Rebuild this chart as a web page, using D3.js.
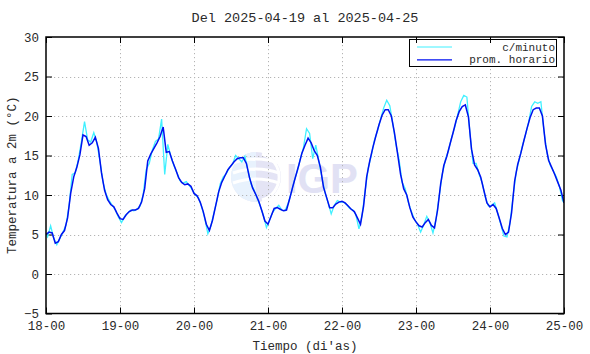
<!DOCTYPE html>
<html><head><meta charset="utf-8">
<script src="https://cdn.jsdelivr.net/npm/d3@7"></script>
<style>
body{margin:0;background:#fff}
text{font-family:"Liberation Mono",monospace}
</style>
</head><body>
<svg id="c" width="590" height="354"></svg>
<script>
// ---- data ----
const title = "Del 2025-04-19 al 2025-04-25";
const dayLabels = ["18-00","19-00","20-00","21-00","22-00","23-00","24-00","25-00"];
const yTicks = [-5,0,5,10,15,20,25,30];
const seriesNames = ["c/minuto","prom. horario"];

// hourly average, one value per hour from 18-00 to 25-00
const hourlyD18 = [5.0,5.3,5.2,3.9,4.1,5.0,5.5,7.1,10.2,12.3,13.5,15.1,17.6,17.4,16.3,16.6,17.3,15.9,12.8,10.6,9.4,8.8,8.5,7.7];
const hourlyD19 = [7.0,6.9,7.5,7.9,8.1,8.1,8.3,9.1,10.8,14.3,15.2,15.9,16.6,17.4,18.6,15.4,15.5,14.3,13.3,12.2,11.6,11.3,11.4,11.1];
const hourlyD20 = [10.2,9.9,9.1,7.9,6.3,5.5,6.8,8.6,10.4,11.6,12.4,13.2,13.7,14.2,14.6,14.7,14.7,14.0,12.2,10.9,10.1,9.2,8.0,6.7];
const hourlyD21 = [6.3,7.3,8.3,8.4,8.2,8.0,8.1,9.5,11.0,12.4,13.8,15.3,16.3,17.2,16.6,15.6,15.0,13.5,11.0,9.7,8.4,8.4,8.85,9.1];
const hourlyD22 = [9.2,9.0,8.6,8.2,7.9,7.1,6.3,8.6,12.3,14.3,16.0,17.5,18.9,20.1,20.8,20.8,20.0,17.9,15.3,12.6,10.8,10.0,8.4,7.2];
const hourlyD23 = [6.6,6.1,5.95,6.5,6.9,6.15,5.85,8.1,11.4,13.7,14.9,16.4,17.85,19.4,20.55,21.2,21.4,19.9,15.8,13.8,13.2,12.25,10.6,9.0];
const hourlyD24 = [8.5,8.8,8.3,7.05,5.75,5.0,5.3,7.75,11.8,13.9,15.3,16.9,18.4,19.8,20.8,21.0,21.0,20.0,16.4,14.4,13.5,12.6,11.6,10.6,9.0];

// per-minute readings (sampled at the half hour)
const minuteD18 = [4.7,6.1,4.55,3.7,4.5,5.3,6.2,8.7,12.6,12.8,14.5,16.8,19.3,17.0,16.7,17.9,16.6,14.3,11.6,10.1,9.3,8.7,8.1,7.2];
const minuteD19 = [6.5,7.3,7.7,8.1,8.0,8.2,8.6,10.0,13.2,14.0,15.7,16.8,17.1,19.6,12.6,16.4,14.9,13.7,12.8,11.8,11.5,11.7,11.2,10.6];
const minuteD20 = [10.0,9.6,8.5,7.0,5.1,6.1,7.8,9.4,11.4,12.3,12.7,13.5,13.9,15.0,14.6,14.2,14.9,13.1,11.4,10.6,9.6,8.6,7.4,5.9];
const minuteD21 = [6.8,7.8,8.3,8.7,8.1,8.0,8.9,10.2,11.8,13.0,14.6,16.0,18.4,17.8,14.6,16.3,14.3,12.2,10.3,9.0,7.6,8.7,9.3,9.1];
const minuteD22 = [9.1,8.8,8.3,8.1,7.5,5.7,7.4,10.5,13.4,15.0,16.9,18.1,19.6,21.0,22.0,21.3,19.0,16.4,14.5,11.6,10.8,9.1,7.9,6.9];
const minuteD23 = [6.3,5.3,6.2,7.3,6.5,5.2,6.9,9.8,12.6,14.4,15.6,17.2,18.5,20.1,21.8,22.6,22.4,17.8,14.0,14.0,12.6,11.5,9.7,8.6];
const minuteD24 = [8.7,9.0,7.7,6.3,4.8,4.7,6.5,9.9,12.9,14.5,16.2,17.6,19.2,21.2,21.8,21.6,21.8,18.1,15.3,13.8,13.1,12.3,11.1,9.3];

const hourly = [].concat(hourlyD18,hourlyD19,hourlyD20,hourlyD21,hourlyD22,hourlyD23,hourlyD24)
  .map((v,i)=>({h:i, v}));
const minute = [].concat(minuteD18,minuteD19,minuteD20,minuteD21,minuteD22,minuteD23,minuteD24)
  .map((v,i)=>({h:i+0.5, v}));
minute.unshift({h:0, v:hourly[0].v});
minute.push({h:168, v:hourly[hourly.length-1].v});

// ---- layout ----
const L=46, R=564, T=37, B=313.5;
const svg = d3.select("#c");
const x = d3.scaleLinear().domain([0,168]).range([L,R]);
const y = d3.scaleLinear().domain([-5,30]).range([B,T]);
const xTicks = dayLabels.map((d,i)=>i*24);
const font = 12.5;
const txtCol = "#2a2a2a";

// watermark
const wm = svg.append("g").attr("opacity",0.9);
wm.append("circle").attr("cx",256).attr("cy",177).attr("r",25).attr("fill","#e2e2f4");
wm.append("path").attr("d","M256,152 A25,25 0 0 0 256,202 Z").attr("fill","#e6f1fd");
[[-14,10],[-4,16],[6,20]].forEach(([dy,w])=>{
  wm.append("path").attr("d",`M${233},${177+dy} Q256,${177+dy-8} ${279},${177+dy}`)
    .attr("fill","none").attr("stroke","#fff").attr("stroke-width",3);
});
wm.append("path").attr("d","M262,154 A24,24 0 0 1 262,200").attr("fill","none").attr("stroke","#fff").attr("stroke-width",3);
wm.append("text").attr("x",286).attr("y",193)
  .style("font-family","Liberation Sans, Arial, sans-serif")
  .attr("font-weight","bold").attr("font-size",42).attr("textLength",72).attr("lengthAdjust","spacingAndGlyphs")
  .attr("fill","#dedef3").text("IGP");

// grid
const grid = svg.append("g").attr("stroke","#b4b4b4").attr("stroke-width",1).attr("stroke-dasharray","1.2,2.8");
grid.selectAll(".gx").data(xTicks.slice(1,-1)).join("line")
  .attr("x1",d=>x(d)+0.5).attr("x2",d=>x(d)+0.5).attr("y1",T).attr("y2",B);
grid.selectAll(".gy").data(yTicks.slice(1,-1)).join("line")
  .attr("y1",d=>Math.round(y(d))+0.5).attr("y2",d=>Math.round(y(d))+0.5).attr("x1",L).attr("x2",R);

// axes
function style(g){
  g.selectAll(".domain").remove();
  g.selectAll("line").attr("stroke","#000").attr("stroke-width",1);
  g.selectAll("text").attr("fill",txtCol).attr("font-size",font).style("font-family","Liberation Mono, monospace");
}
svg.append("g").attr("transform",`translate(0,${B})`)
  .call(d3.axisBottom(x).tickValues(xTicks).tickFormat((d,i)=>dayLabels[i]).tickSize(-6).tickPadding(8)).call(style);
svg.append("g").attr("transform",`translate(0,${T})`)
  .call(d3.axisTop(x).tickValues(xTicks).tickFormat("").tickSize(-6)).call(style);
svg.append("g").attr("transform",`translate(${L},0)`)
  .call(d3.axisLeft(y).tickValues(yTicks).tickSize(-6).tickPadding(7)).call(style);
svg.append("g").attr("transform",`translate(${R},0)`)
  .call(d3.axisRight(y).tickValues(yTicks).tickFormat("").tickSize(-6)).call(style);

// data lines
svg.append("clipPath").attr("id","pc").append("rect").attr("x",L).attr("y",T).attr("width",R-L).attr("height",B-T);
const line = d3.line().x(d=>x(d.h)).y(d=>y(d.v));
const pg = svg.append("g").attr("clip-path","url(#pc)");
pg.append("path").datum(minute).attr("d",line).attr("fill","none").attr("stroke","#3ff0ff").attr("stroke-width",1.3);
pg.append("path").datum(hourly).attr("d",line).attr("fill","none").attr("stroke","#0010f0").attr("stroke-width",1.5);

// frame
svg.append("rect").attr("x",L).attr("y",T).attr("width",R-L).attr("height",B-T)
  .attr("fill","none").attr("stroke","#000").attr("stroke-width",1.5);

// legend
const lg = svg.append("g");
lg.append("rect").attr("x",409.5).attr("y",39.5).attr("width",147).attr("height",27)
  .attr("fill","#fff").attr("stroke","#000").attr("stroke-width",1);
const legColors = ["#3ff0ff","#0010f0"];
seriesNames.forEach((n,i)=>{
  const yy = 47 + i*12.8;
  lg.append("line").attr("x1",417).attr("x2",452).attr("y1",yy).attr("y2",yy).attr("stroke",legColors[i]).attr("stroke-width",i?1.3:1);
  lg.append("text").attr("x",555).attr("y",yy+3.5).attr("text-anchor","end").attr("font-size",11).attr("fill",txtCol).text(n);
});
// top ticks over legend
svg.append("g").attr("transform",`translate(0,${T})`)
  .call(d3.axisTop(x).tickValues(xTicks.filter(d=>x(d)>409 && x(d)<557)).tickFormat("").tickSize(-6)).call(style);

// titles
svg.append("text").attr("x",(L+R)/2).attr("y",22).attr("text-anchor","middle").attr("font-size",13.5).attr("fill",txtCol).text(title);
svg.append("text").attr("x",(L+R)/2).attr("y",350).attr("text-anchor","middle").attr("font-size",font).attr("fill",txtCol).text("Tiempo (di'as)");
svg.append("text").attr("transform",`translate(16,${(T+B)/2}) rotate(-90)`).attr("text-anchor","middle").attr("font-size",font).attr("fill",txtCol).text("Temperatura a 2m (°C)");
</script>
</body></html>
